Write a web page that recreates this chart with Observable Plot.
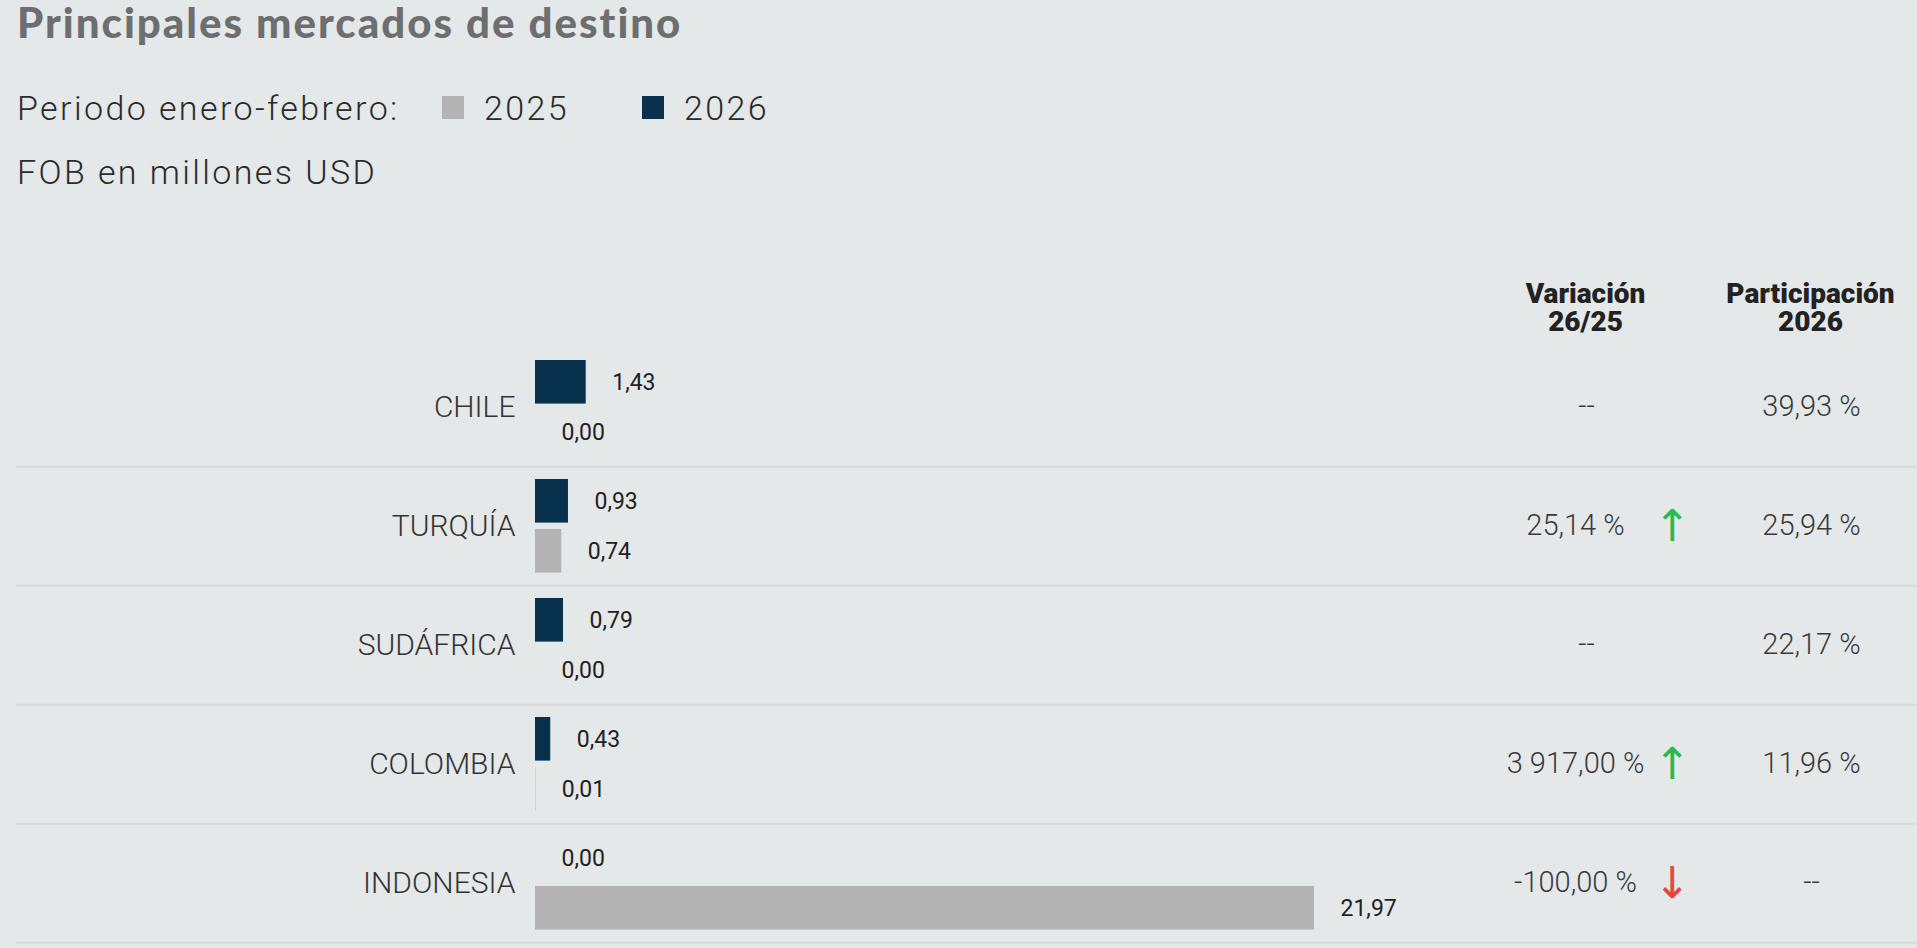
<!DOCTYPE html>
<html>
<head>
<meta charset="utf-8">
<script src="https://cdn.jsdelivr.net/npm/d3@7"></script>
<script src="https://cdn.jsdelivr.net/npm/@observablehq/plot@0.6"></script>
<style>
  html, body { margin: 0; padding: 0; background: #e4e8e9; overflow: hidden; }
  #page { position: relative; width: 1917px; height: 948px; }
  #header { position: relative; width: 1917px; height: 200px; }
  .t { position: absolute; white-space: nowrap; line-height: 1; }
  #title { left: 17px; top: 1px; font-family: Lato, sans-serif; font-weight: 900; font-size: 42px; color: #6d6e70; letter-spacing: 2px; }
  .light { font-family: Roboto, sans-serif; font-weight: 300; font-size: 34px; color: #2b2b2b; letter-spacing: 2.4px; }
  .sw { position: absolute; width: 22px; height: 23px; }
  #chart svg { display: block; }
</style>
</head>
<body>
<div id="page">
  <div id="header">
    <div class="t" id="title">Principales mercados de destino</div>
    <div class="t light" style="left:17px; top:91px;">Periodo enero-febrero:</div>
    <div class="sw" style="left:442px; top:96px; background:#b3b3b3;"></div>
    <div class="t light" style="left:484px; top:91px;">2025</div>
    <div class="sw" style="left:642px; top:96px; background:#08314e;"></div>
    <div class="t light" style="left:684px; top:91px;">2026</div>
    <div class="t light" style="left:17px; top:155px;">FOB en millones USD</div>
  </div>
  <div id="chart"></div>
</div>
<script>
// ---- data ----
const countries = ["CHILE", "TURQUÍA", "SUDÁFRICA", "COLOMBIA", "INDONESIA"];
const values2026 = [1.43, 0.93, 0.79, 0.43, 0.00];
const values2025 = [0.00, 0.74, 0.00, 0.01, 21.97];
const variation = [null, 25.14, null, 3917.00, -100.00];
const share2026 = [39.93, 25.94, 22.17, 11.96, null];
const headers = ["Variación\n26/25", "Participación\n2026"];

// ---- layout ----
const W = 1917, H = 748;
const marginLeft = 16;
const xRange = [535, 1314];
const yRange = [146, 743];
const rowH = (yRange[1] - yRange[0]) / countries.length;
const barH = 44, barTop1 = 13, barTop2 = 63;
const colVar = 1575, colVarDash = 1586, colArrow = 1672, colShare = 1811;
const headerCols = [1585, 1810];
const headerBaseline = 130;

const loc = d3.formatLocale({decimal: ",", thousands: " ", grouping: [3], currency: ["", ""], minus: "-"});
const f2 = loc.format(",.2f");

const rows = countries.map((c, i) => ({
  country: c, v2026: values2026[i], v2025: values2025[i],
  variation: variation[i], share: share2026[i]
}));

const lightFont = "Roboto, sans-serif";
const center1 = barTop1 + barH / 2 - rowH / 2;
const center2 = barTop2 + barH / 2 - rowH / 2;
const colText = {fontSize: 29, fontFamily: lightFont, fontWeight: 300, fill: "#3a3a3a", textAnchor: "middle", letterSpacing: "1px"};

const headerMarks = headers.map((h, i) => Plot.text([h], {
  frameAnchor: "top-left", text: d => d, dx: headerCols[i] - marginLeft, dy: headerBaseline,
  lineAnchor: "bottom", lineHeight: 1, textAnchor: "middle",
  fontSize: 28, fontWeight: 900, fontFamily: "Roboto, sans-serif", fill: "#222", letterSpacing: "0.6px"
}));

const plot = Plot.plot({
  width: W, height: H,
  marginLeft, marginRight: 0, marginTop: 0, marginBottom: 0,
  style: {background: "transparent", overflow: "visible"},
  x: {domain: [0, d3.max([...values2025, ...values2026])], range: xRange, axis: null},
  y: {domain: countries, range: yRange, padding: 0, axis: null},
  marks: [
    // row separators
    Plot.ruleY(rows, {y: "country", dy: rowH / 2, stroke: "#d8d8db", strokeWidth: 2}),
    // bars
    Plot.barX(rows, {x: "v2026", y: "country", fill: "#08314e", insetTop: barTop1, insetBottom: rowH - barTop1 - barH}),
    Plot.barX(rows, {x: "v2025", y: "country", fill: "#b3b3b3", insetTop: barTop2, insetBottom: rowH - barTop2 - barH}),
    // value labels
    Plot.text(rows, {x: "v2026", y: "country", text: d => f2(d.v2026), dx: 26, dy: center1, textAnchor: "start",
      fontSize: 23, fontFamily: "Roboto, sans-serif", fill: "#222"}),
    Plot.text(rows, {x: "v2025", y: "country", text: d => f2(d.v2025), dx: 26, dy: center2, textAnchor: "start",
      fontSize: 23, fontFamily: "Roboto, sans-serif", fill: "#222"}),
    // country labels
    Plot.text(rows, {x: () => 0, y: "country", text: "country", dx: -20, textAnchor: "end",
      fontSize: 30, fontFamily: lightFont, fontWeight: 300, fill: "#333"}),
    // column headers
    ...headerMarks,
    // variation values
    Plot.text(rows.filter(d => d.variation != null), {y: "country", frameAnchor: "left", dx: colVar - marginLeft,
      text: d => f2(d.variation) + " %", ...colText}),
    Plot.text(rows.filter(d => d.variation == null), {y: "country", frameAnchor: "left", dx: colVarDash - marginLeft,
      text: () => "--", ...colText}),
    // arrows
    Plot.text(rows.filter(d => d.variation != null), {y: "country", frameAnchor: "left", dx: colArrow - marginLeft, dy: 1,
      text: d => d.variation >= 0 ? "↑" : "↓", fontSize: 44, fontFamily: "DejaVu Sans, sans-serif", textAnchor: "middle",
      fill: d => d.variation >= 0 ? "#2eb84b" : "#e5473b"}),
    // share values
    Plot.text(rows, {y: "country", frameAnchor: "left", dx: colShare - marginLeft,
      text: d => d.share == null ? "--" : f2(d.share) + " %", ...colText})
  ]
});

document.getElementById("chart").appendChild(plot);
</script>
</body>
</html>
